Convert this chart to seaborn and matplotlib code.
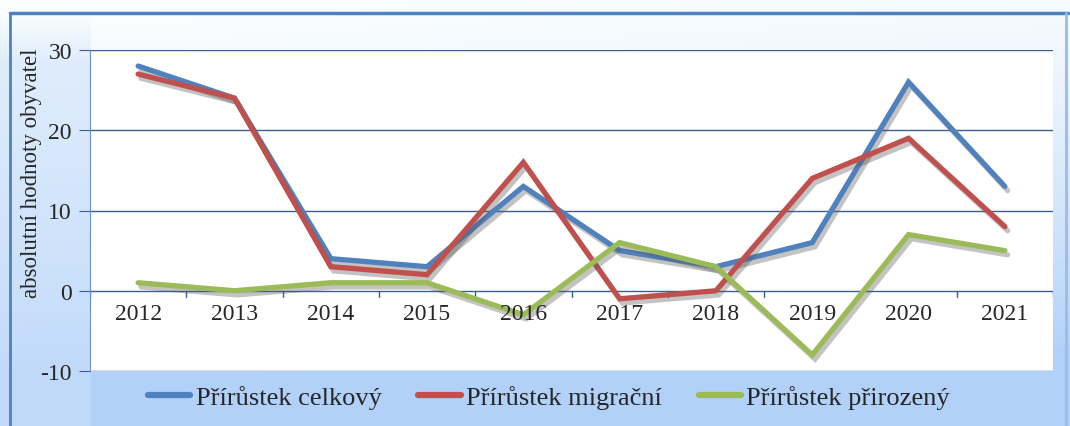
import numpy as np
import pandas as pd
import matplotlib
matplotlib.use("Agg")
import matplotlib.pyplot as plt
import matplotlib.patheffects as pe
import seaborn as sns

years = ["2012", "2013", "2014", "2015", "2016", "2017", "2018", "2019", "2020", "2021"]
celkovy = [28, 24, 4, 3, 13, 5, 3, 6, 26, 13]
migracni = [27, 24, 3, 2, 16, -1, 0, 14, 19, 8]
prirozeny = [1, 0, 1, 1, -3, 6, 3, -8, 7, 5]
series_names = ["Přírůstek celkový", "Přírůstek migrační", "Přírůstek přirozený"]
colors = ["#4F81BD", "#C0504D", "#9BBB59"]
y_ticks = [-10, 0, 10, 20, 30]

df = pd.DataFrame({"rok": years, series_names[0]: celkovy,
                   series_names[1]: migracni, series_names[2]: prirozeny})
long = df.melt(id_vars="rok", var_name="rada", value_name="hodnota")

sns.set_style("white")
plt.rcParams["font.family"] = ["Liberation Serif", "DejaVu Serif"]

fig = plt.figure(figsize=(10.70, 4.27), dpi=100)

# background gradient (near white top, light blue bottom)
bg = fig.add_axes([0, 0, 1, 1], zorder=-10)
bg.set_axis_off()
ny, nx = 200, 400
yy = np.linspace(0, 1, ny)[:, None]
xx = np.linspace(0, 1, nx)[None, :]
t = np.clip(1.15 * yy ** 1.3 + 0.1 * xx, 0, 1)
top = np.array([0.99, 1.0, 1.0])
bot = np.array([0.70, 0.82, 0.98])
img = top[None, None, :] * (1 - t[..., None]) + bot[None, None, :] * t[..., None]
# light blue strip on the left, fading out towards the top corner
left = (xx < 0.085) * 0.55 * np.clip((yy - 0.03) / 0.12, 0, 1)
img = img * (1 - left[..., None]) + np.array([0.80, 0.88, 0.98])[None, None, :] * left[..., None]
bg.imshow(img, aspect="auto", extent=[0, 1, 0, 1], origin="upper")
bg.set_xlim(0, 1)
bg.set_ylim(0, 1)
bg.plot([10 / 1070, 1068 / 1070], [1 - 14 / 427, 1 - 14 / 427], color="#4F81BD", lw=2.5)
bg.plot([10 / 1070, 10 / 1070], [0, 1 - 14 / 427], color="#4F81BD", lw=2)
bg.plot([1066 / 1070, 1066 / 1070], [0, 1 - 14 / 427], color="#9DBBE8", lw=2)

ax = fig.add_axes([90 / 1070, 1 - 372 / 427, 963 / 1070, 321 / 427])
ax.set_facecolor("white")

shadow = [pe.SimpleLineShadow(offset=(2, -3), shadow_color="#555555", alpha=0.35), pe.Normal()]
sns.lineplot(data=long, x="rok", y="hodnota", hue="rada", palette=colors,
             linewidth=3.8, ax=ax, legend=False, sort=False)
for line in ax.get_lines():
    line.set_path_effects(shadow)
    line.set_solid_joinstyle("miter")

ax.set_xlim(-0.5, len(years) - 0.5)
ax.set_ylim(-10, 30)
ax.set_yticks(y_ticks)
ax.set_yticklabels([str(v) for v in y_ticks], fontsize=17)
ax.grid(axis="y", color="#3A5F95", linewidth=1)
ax.set_axisbelow(True)
for s in ["top", "right", "bottom"]:
    ax.spines[s].set_visible(False)
ax.spines["left"].set_color("#6C8EBF")
ax.tick_params(axis="y", length=8, color="#3A5F95", pad=5, left=True)

# x axis drawn at zero
ax.set_xticks([])
ax.set_xlabel("")
ax.set_ylabel("absolutní hodnoty obyvatel", fontsize=16.5)
ax.yaxis.set_label_coords(-0.05, 0.62)
for i in range(len(years) + 1):
    ax.plot([i - 0.5, i - 0.5], [0, -0.8], color="#3A5F95", lw=1, zorder=1)
for i, yr in enumerate(years):
    ax.text(i, -1.5, yr, ha="center", va="top", fontsize=17)

handles = [plt.Line2D([], [], color=c, lw=4.5) for c in colors]
fig.legend(handles, series_names, loc="center", bbox_to_anchor=(0.513, 1 - 398 / 427),
           ncol=3, frameon=False, fontsize=19, handlelength=1.6, columnspacing=1.4,
           handletextpad=0.2)

fig.savefig("out.png", dpi=100)
